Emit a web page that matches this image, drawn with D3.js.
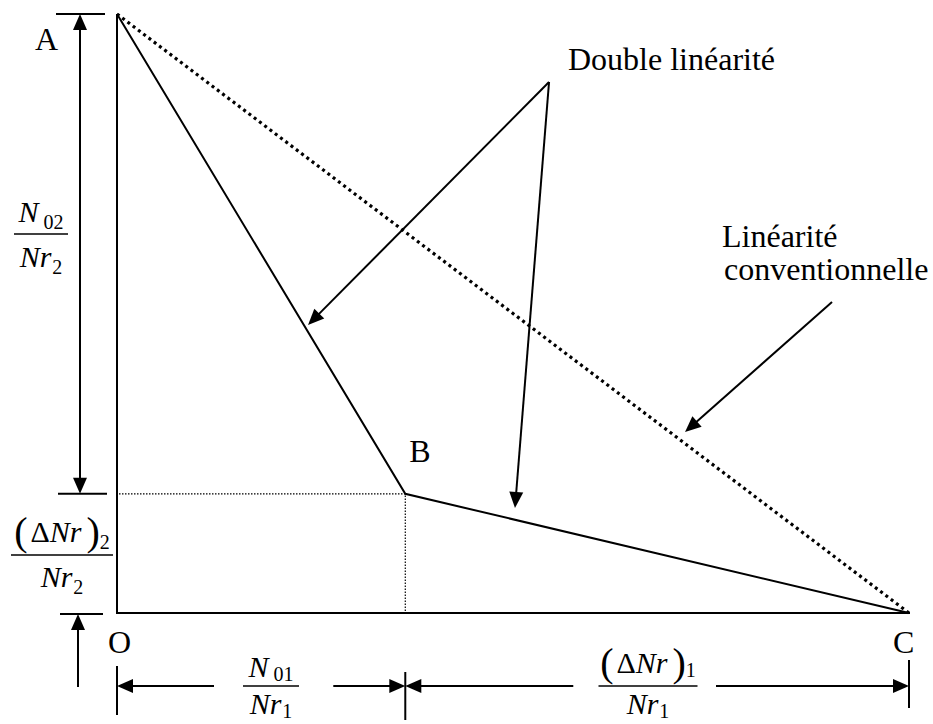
<!DOCTYPE html>
<html>
<head>
<meta charset="utf-8">
<script src="https://cdn.jsdelivr.net/npm/d3@7"></script>
<style>
  body { margin: 0; background: #fff; }
  svg { display: block; }
  text { font-family: "Liberation Serif", "Times New Roman", serif; fill: #000; }
</style>
</head>
<body>
<div id="graphe"></div>
<script>
// points de la double linéarité (unités normalisées)
const nomsPoints = ["A", "B", "C"]
const pointsX = [0, 0.364, 1]
const pointsY = [1, 0.199, 0]

// droite de la linéarité conventionnelle
const convX = [0, 1]
const convY = [1, 0]

// flèches d'annotation : départ -> arrivée
const flechesDepart = [[0.5455, 0.8865], [0.5455, 0.8865], [0.9028, 0.5192]]
const flechesArrivee = [[0.2412, 0.4808], [0.5025, 0.1753], [0.7172, 0.3022]]
const etiquettes = ["Double linéarité", "Linéarité", "conventionnelle"]

function dessiner() {

  // 1. Dimensions

  const dim = { largeur: 933, hauteur: 724 }

  const svg = d3.select("#graphe")
    .append("svg")
      .attr("width", dim.largeur)
      .attr("height", dim.hauteur)

  // 2. Echelles

  const x = d3.scaleLinear().domain([0, 1]).range([117, 909])
  const y = d3.scaleLinear().domain([0, 1]).range([613, 14])

  const x0 = x(0), y0 = y(0)
  const xB = x(pointsX[1]), yB = y(pointsY[1])
  const xC = x(1), yA = y(1)

  // petite aide pour une flèche pleine
  const fleche = (g, x1, y1, x2, y2, deux = false, larg = 2) => {
    const lg = 16, dl = 7
    const d = Math.hypot(x2 - x1, y2 - y1)
    const ux = (x2 - x1) / d, uy = (y2 - y1) / d
    const tete = (tx, ty, vx, vy) => {
      const bx = tx - vx * lg, by = ty - vy * lg
      g.append("path")
        .attr("d", `M${tx},${ty}L${bx - vy * dl},${by + vx * dl}L${bx + vy * dl},${by - vx * dl}Z`)
        .attr("fill", "#000")
    }
    g.append("line")
      .attr("x1", deux ? x1 + ux * lg * 0.8 : x1).attr("y1", deux ? y1 + uy * lg * 0.8 : y1)
      .attr("x2", x2 - ux * lg * 0.8).attr("y2", y2 - uy * lg * 0.8)
      .attr("stroke", "#000").attr("stroke-width", larg)
    tete(x2, y2, ux, uy)
    if (deux) tete(x1, y1, -ux, -uy)
  }

  const trait = (g, x1, y1, x2, y2, larg = 2) => g.append("line")
    .attr("x1", x1).attr("y1", y1).attr("x2", x2).attr("y2", y2)
    .attr("stroke", "#000").attr("stroke-width", larg)

  // 3. Axes
  const axes = svg.append("g")
  trait(axes, x0, yA, x0, y0 + 1)
  trait(axes, x0 - 1, y0, xC + 1, y0)

  // pointillés fins depuis B
  axes.append("path")
    .attr("d", `M${x0 + 2},${yB}H${xB}V${y0 - 1}`)
    .attr("fill", "none")
    .attr("stroke", "#000")
    .attr("stroke-width", 1.2)
    .attr("stroke-dasharray", "1.5,1.5")

  // 4. Données

  const ligne = d3.line().x(d => x(d[0])).y(d => y(d[1]))

  svg.append("path")
    .datum(convX.map((v, i) => [v, convY[i]]))
    .attr("d", ligne)
    .attr("fill", "none")
    .attr("stroke", "#000")
    .attr("stroke-width", 3.2)
    .attr("stroke-dasharray", "3,3.6")

  svg.append("path")
    .datum(pointsX.map((v, i) => [v, pointsY[i]]))
    .attr("d", ligne)
    .attr("fill", "none")
    .attr("stroke", "#000")
    .attr("stroke-width", 2)
    .attr("stroke-linejoin", "miter")

  // 5. Cotes

  const cotes = svg.append("g")
  // verticale gauche A -> B
  trait(cotes, x0 - 61, yA, x0 - 12, yA)
  trait(cotes, x0 - 59, yB, x0 - 10, yB)
  fleche(cotes, x0 - 37, yA, x0 - 37, yB, true)
  // petite flèche du bas
  trait(cotes, x0 - 57, y0 + 1, x0 - 14, y0 + 1)
  fleche(cotes, x0 - 39, y0 + 74, x0 - 39, y0 + 1)

  // horizontale du bas
  const yc = y0 + 73
  trait(cotes, x0, y0 + 53, x0, y0 + 102)
  trait(cotes, xB, y0 + 59, xB, y0 + 107)
  trait(cotes, xC, y0 + 47, xC, y0 + 95)
  fleche(cotes, x0 + 97, yc, x0, yc)
  fleche(cotes, xB - 72, yc, xB, yc)
  fleche(cotes, xB + 168, yc, xB, yc)
  fleche(cotes, xC - 193, yc, xC, yc)

  // 6. Flèches d'annotation
  const annot = svg.append("g")
  flechesDepart.forEach((dep, i) => {
    const arr = flechesArrivee[i]
    fleche(annot, x(dep[0]), y(dep[1]), x(arr[0]), y(arr[1]), false, 2)
  })

  // 7. Textes
  const txt = svg.append("g").style("font-size", "32px")
  txt.append("text").attr("x", x0 - 82).attr("y", yA + 36).text(nomsPoints[0])
  txt.append("text").attr("x", xB + 4).attr("y", yB - 32).text(nomsPoints[1])
  txt.append("text").attr("x", xC - 16).attr("y", y0 + 40).text(nomsPoints[2])
  txt.append("text").attr("x", x0 - 9).attr("y", y0 + 40).text("O")

  txt.append("text").attr("x", 568).attr("y", 70).text(etiquettes[0])
  txt.append("text").attr("x", 722).attr("y", 247).text(etiquettes[1])
  txt.append("text").attr("x", 724).attr("y", 280).text(etiquettes[2])

  // fractions
  const morceaux = (t, pieces, ds) => {
    let decal = 0
    pieces.forEach(p => {
      const s = t.append("tspan").text(p[0])
      if (p[1] === "i") s.style("font-style", "italic")
      if (p[1] === "s") {
        s.style("font-size", "20px").attr("dy", ds - decal).attr("dx", p[2] || 0)
        decal = ds
      } else if (decal) {
        s.attr("dy", -decal); decal = 0
      }
      if (p[1] === "p") s.style("font-size", "40px").attr("dy", 3 - decal).attr("dx", p[2] || 0)
      if (p[1] === "p") decal = 3
      if (p[1] === "d") s.attr("dx", p[2] || 0)
    })
  }

  const fraction = (cx, yl, w, num, den, dNum, dDen, bas = false) => {
    const g = svg.append("g").style("font-size", "30px")
    trait(g, cx - w / 2, yl, cx + w / 2, yl, 1.6)
    morceaux(g.append("text").attr("x", cx).attr("y", yl + dNum).attr("text-anchor", "middle"), num, bas ? 4 : 7)
    morceaux(g.append("text").attr("x", cx).attr("y", yl + dDen).attr("text-anchor", "middle"), den, bas ? 4 : 7)
  }

  const nr = (k) => [["N", "i"], ["r", "i"], [k, "s", 1]]
  const dnr = (k) => [["(", "p"], ["\u0394", "d", 3], ["N", "i"], ["r", "i"], [")", "p", 5], [k, "s", 0]]

  fraction(41, 234, 54, [["N", "i"], ["02", "s", 5]], nr("2"), -12, 33)
  fraction(62, 555, 102, dnr("2"), nr("2"), -13, 32)
  fraction(271, yc, 56, [["N", "i"], ["01", "s", 5]], nr("1"), -9, 28, true)
  fraction(648, yc, 99, dnr("1"), nr("1"), -13, 28, true)
}
dessiner()
</script>
</body>
</html>
